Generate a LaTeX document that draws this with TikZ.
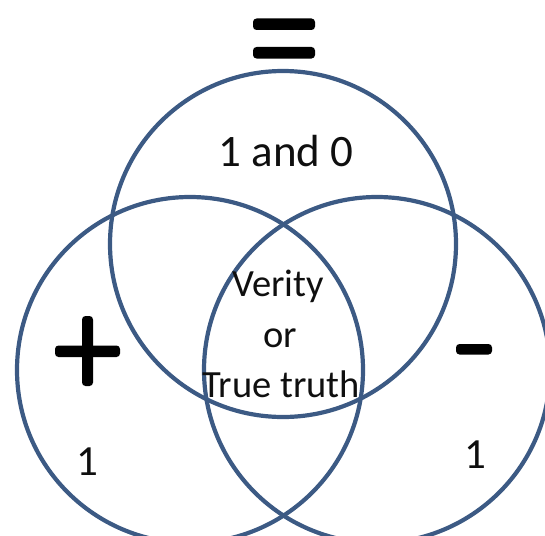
\documentclass[tikz,border=0pt]{standalone}
\usepackage{fontspec}
\setmainfont{Carlito}
\definecolor{ringblue}{RGB}{60,90,132}
\definecolor{inkblack}{RGB}{15,15,15}
\tikzset{
  x=1pt, y=-1pt,
  ring/.style={circle, draw=ringblue, line width=4.2pt, minimum size=346pt, inner sep=0pt},
  bigtxt/.style={anchor=base, inner sep=0pt, text=inkblack, font=\fontsize{45}{50}\selectfont},
  midtxt/.style={anchor=base, inner sep=0pt, text=inkblack, font=\fontsize{38.5}{47}\selectfont},
  onetxt/.style={anchor=base, inner sep=0pt, text=inkblack, font=\fontsize{43}{47}\selectfont},
  sym/.style={fill=black, rounded corners=3.5pt}
}
\begin{document}
\begin{tikzpicture}
\useasboundingbox (0,0) rectangle (545,535);
\begin{scope}
\clip (0,0) rectangle (545,535);
\node[ring] (topc) at (283,244) {};
\node[ring] (leftc) at (190,370) {};
\node[ring] (rightc) at (377,370) {};
\end{scope}
% equals sign
\fill[sym] (253,18.5) rectangle (315,30);
\fill[sym] (253,47) rectangle (315,58.5);
% plus sign
\fill[sym] (82,316) rectangle (93,386);
\fill[sym] (55,345.5) rectangle (120,357);
% minus sign
\fill[sym] (456,344) rectangle (492,354.5);
% texts
\node[bigtxt] (oneandzero) at (286,166) {1 and 0};
\node[midtxt] (verity) at (278,296) {Verity};
\node[midtxt] (or) at (280,347) {or};
\node[midtxt] (truth) at (281,397) {True truth};
\node[onetxt] (oneleft) at (87,475) {1};
\node[onetxt] (oneright) at (475,468) {1};
\end{tikzpicture}
\end{document}
